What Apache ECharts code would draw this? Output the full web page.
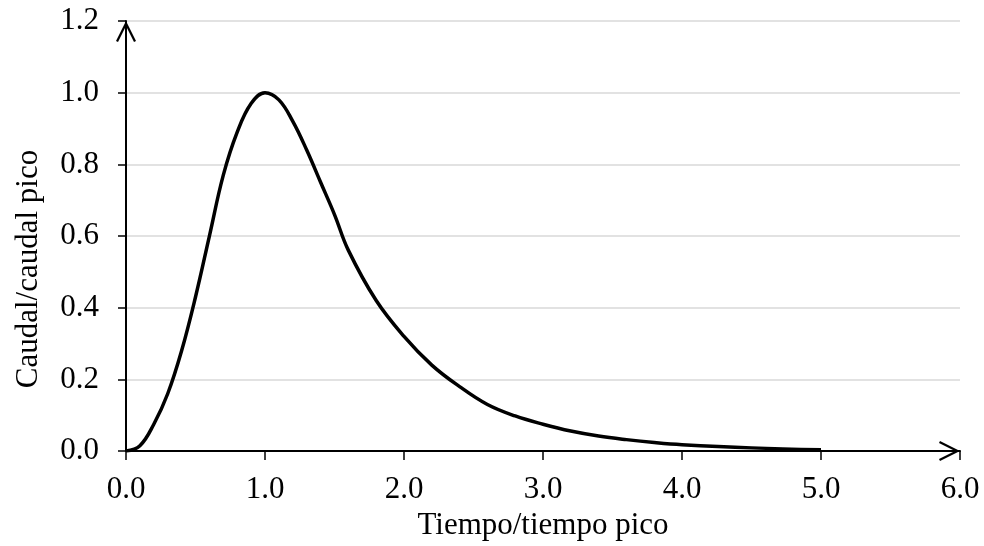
<!DOCTYPE html>
<html>
<head>
<meta charset="utf-8">
<script src="https://cdn.jsdelivr.net/npm/echarts@6/dist/echarts.min.js"></script>
<style>
html,body{margin:0;padding:0;background:#fff;}
#chart{width:984px;height:546px;}
</style>
</head>
<body>
<div id="chart"></div>
<script>
// Dimensionless unit hydrograph (t/tp vs q/qp)
const tRatio = [0, 0.1, 0.2, 0.3, 0.4, 0.5, 0.6, 0.7, 0.8, 0.9, 1.0, 1.1, 1.2, 1.3, 1.4, 1.5, 1.6, 1.8, 2.0, 2.2, 2.4, 2.6, 2.8, 3.0, 3.2, 3.4, 3.6, 3.8, 4.0, 4.5, 5.0];
const qRatio = [0, 0.015, 0.075, 0.16, 0.28, 0.43, 0.60, 0.77, 0.89, 0.97, 1.00, 0.98, 0.92, 0.84, 0.75, 0.66, 0.56, 0.42, 0.32, 0.24, 0.18, 0.13, 0.098, 0.075, 0.056, 0.042, 0.032, 0.024, 0.018, 0.009, 0.004];
const xTickLabels = ['0.0', '1.0', '2.0', '3.0', '4.0', '5.0', '6.0'];
const yTickLabels = ['0.0', '0.2', '0.4', '0.6', '0.8', '1.0', '1.2'];
const xTitle = 'Tiempo/tiempo pico';
const yTitle = 'Caudal/caudal pico';

const FONT = 'Liberation Serif';
const FS = 31;
const chevron = 'path://M0,20 L10,0 L20,20 L18,21 L10,5 L2,21 Z';

const chart = echarts.init(document.getElementById('chart'), null, {renderer: 'canvas'});
chart.setOption({
  animation: false,
  backgroundColor: '#ffffff',
  grid: {left: 126, right: 24, top: 21, bottom: 92.5, containLabel: false},
  xAxis: {
    type: 'value', min: 0, max: 6, interval: 1,
    name: xTitle, nameLocation: 'middle', nameGap: 58,
    nameTextStyle: {fontFamily: FONT, fontSize: FS, color: '#000'},
    axisLine: {show: true, onZero: false, lineStyle: {color: '#000', width: 2},
      symbol: ['none', chevron], symbolSize: [20, 21], symbolOffset: [0, -10.5]},
    axisTick: {show: true, inside: false, length: 9, lineStyle: {color: '#000', width: 1.5}},
    axisLabel: {fontFamily: FONT, fontSize: FS, color: '#000', margin: 23,
      formatter: v => xTickLabels[Math.round(v)]},
    splitLine: {show: false}
  },
  yAxis: {
    type: 'value', min: 0, max: 1.2, interval: 0.2,
    name: yTitle, nameLocation: 'middle', nameGap: 82, nameRotate: 90,
    nameTextStyle: {fontFamily: FONT, fontSize: FS, color: '#000', padding: [0, 66, 0, 0]},
    axisLine: {show: true, onZero: false, lineStyle: {color: '#000', width: 2},
      symbol: ['none', chevron], symbolSize: [20, 21], symbolOffset: [0, -10.5]},
    axisTick: {show: true, inside: false, length: 8, lineStyle: {color: '#000', width: 1.5}},
    axisLabel: {fontFamily: FONT, fontSize: FS, color: '#000', margin: 27,
      formatter: v => yTickLabels[Math.round(v / 0.2)]},
    splitLine: {show: true, lineStyle: {color: '#d9d9d9', width: 1.5}}
  },
  series: [{
    type: 'line',
    data: tRatio.map((t, i) => [t, qRatio[i]]),
    showSymbol: false,
    smooth: 0.4,
    lineStyle: {color: '#000', width: 3.5},
    z: 1
  }]
});
</script>
</body>
</html>
